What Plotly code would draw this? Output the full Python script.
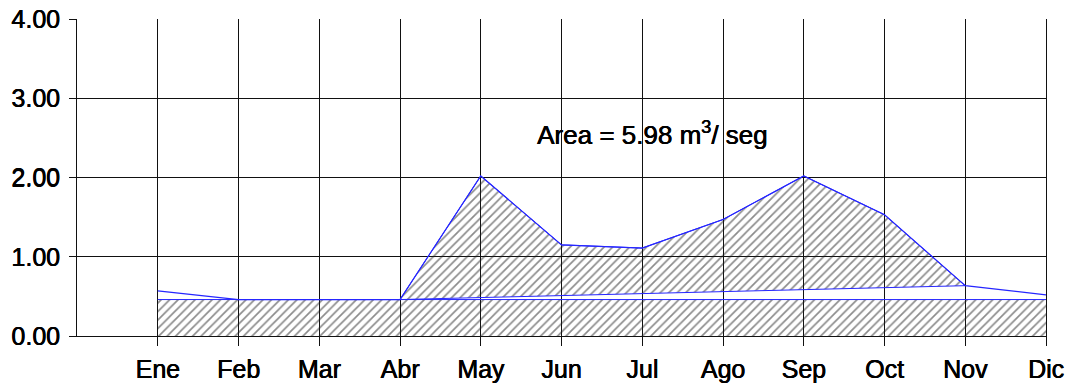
import plotly.graph_objects as go

# Monthly flow (m3/seg)
months = ["Ene", "Feb", "Mar", "Abr", "May", "Jun", "Jul", "Ago", "Sep", "Oct", "Nov", "Dic"]
flow = [0.57, 0.46, 0.46, 0.46, 2.02, 1.15, 1.11, 1.47, 2.02, 1.53, 0.635, 0.52]
base_level = 0.46
y_ticks = [0, 1, 2, 3, 4]
y_ticktext = ["0.00", "1.00", "2.00", "3.00", "4.00"]
area_label = "Area = 5.98 m<sup>3</sup>/ seg"

# Wet-season span (start and end month of the direct runoff)
wet_start, wet_end = "Abr", "Nov"

xi = list(range(len(months)))
i0, i1 = months.index(wet_start), months.index(wet_end)

BLUE = "#2626ff"
INK = "#111111"
hatch = dict(shape="/", size=6, solidity=0.28, fgcolor="#1a1a1a",
             bgcolor="rgba(0,0,0,0)")

fig = go.Figure()

# Base flow block (hatched rectangle)
fig.add_trace(go.Scatter(
    x=xi, y=[base_level] * len(months), mode="lines",
    line=dict(color=BLUE, width=1), fill="tozeroy",
    fillcolor="rgba(0,0,0,0)", fillpattern=hatch, hoverinfo="skip",
))

# Direct runoff: region between the hydrograph and the straight separation line
fig.add_trace(go.Scatter(
    x=xi[i0:i1 + 1], y=flow[i0:i1 + 1], mode="lines",
    line=dict(color=BLUE, width=1), fill="toself",
    fillcolor="rgba(0,0,0,0)", fillpattern=hatch, hoverinfo="skip",
))

# Separation line
fig.add_trace(go.Scatter(
    x=[xi[i0], xi[i1]], y=[flow[i0], flow[i1]], mode="lines",
    line=dict(color=BLUE, width=1), hoverinfo="skip",
))

# Full hydrograph
fig.add_trace(go.Scatter(
    x=xi, y=flow, mode="lines",
    line=dict(color=BLUE, width=1.2), hoverinfo="skip",
))

# Slightly heavier glyphs via a thin text shadow
heavy = "0.5px 0 0 #000, 0 0.3px 0 #000"

fig.add_annotation(
    x=6.13, y=2.56, xref="x", yref="y", text=area_label, showarrow=False,
    font=dict(family="Liberation Sans, Arial, sans-serif", size=26, color="black",
              shadow=heavy),
)

axis_font = dict(family="Liberation Sans, Arial, sans-serif", size=25, color="black",
                 shadow=heavy)

fig.update_layout(
    width=1068, height=383,
    margin=dict(l=77, r=22, t=19, b=47),
    paper_bgcolor="white", plot_bgcolor="white",
    showlegend=False,
    xaxis=dict(
        range=[-1, 11], tickmode="array", tickvals=xi, ticktext=months,
        showgrid=True, gridcolor=INK, gridwidth=1,
        ticks="outside", ticklen=9, tickcolor=INK, tickwidth=1,
        showline=True, linecolor=INK, linewidth=1, zeroline=False,
        tickfont=axis_font, fixedrange=True, automargin=False,
        ticklabelstandoff=2,
    ),
    yaxis=dict(
        range=[0, 4], tickmode="array", tickvals=y_ticks, ticktext=y_ticktext,
        showgrid=True, gridcolor=INK, gridwidth=1,
        ticks="outside", ticklen=7, tickcolor=INK, tickwidth=1,
        showline=True, mirror=True, linecolor=INK, linewidth=1, zeroline=False,
        tickfont=axis_font, fixedrange=True, automargin=False,
        ticklabelstandoff=4,
    ),
)

fig.write_html("out.html")
